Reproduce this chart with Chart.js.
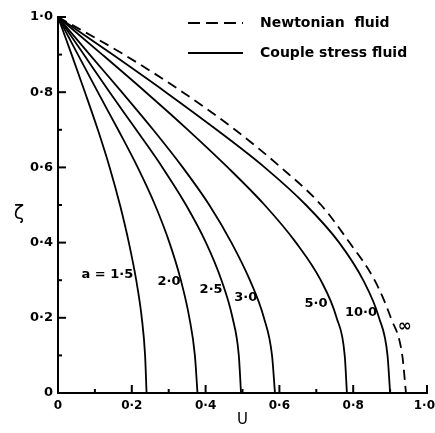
<!DOCTYPE html>
<html>
<head>
<meta charset="utf-8">
<script src="https://cdn.jsdelivr.net/npm/chart.js@4.4.0/dist/chart.umd.min.js"></script>
<style>
    body { margin: 0; background: #fff; }
</style>
</head>
<body>
<canvas id="grafico" width="435" height="433"></canvas>
<script>
// zeta values, top to bottom, shared by all curves
var zeta = [1.0, 0.9, 0.8, 0.7, 0.6, 0.5, 0.4, 0.3, 0.2, 0.1, 0];

// velocity u for each curve
var uNewtonian = [0, 0.179, 0.338, 0.48, 0.604, 0.713, 0.79, 0.858, 0.902, 0.933, 0.943];
var u15 = [0, 0.037, 0.073, 0.108, 0.140, 0.168, 0.192, 0.212, 0.227, 0.236, 0.240];
var u20 = [0, 0.054, 0.108, 0.163, 0.216, 0.263, 0.302, 0.333, 0.356, 0.371, 0.378];
var u25 = [0, 0.070, 0.140, 0.212, 0.283, 0.347, 0.401, 0.443, 0.473, 0.490, 0.496];
var u30 = [0, 0.086, 0.173, 0.258, 0.338, 0.410, 0.470, 0.520, 0.558, 0.580, 0.588];
var u50 = [0, 0.120, 0.238, 0.352, 0.460, 0.560, 0.645, 0.712, 0.755, 0.777, 0.783];
var u100 = [0, 0.148, 0.292, 0.430, 0.560, 0.672, 0.762, 0.827, 0.870, 0.893, 0.900];

// tick values on both axes
var tacche = [0, 0.2, 0.4, 0.6, 0.8, 1.0];

// curve labels and where they sit (u, zeta)
var etichette = ['a = 1·5', '2·0', '2·5', '3·0', '5·0', '10·0', '∞'];
var etichetteU = [0.134, 0.301, 0.415, 0.509, 0.699, 0.821, 0.940];
var etichetteZeta = [0.316, 0.295, 0.274, 0.253, 0.239, 0.213, 0.176];

var legenda = ['Newtonian  fluid', 'Couple stress fluid'];

function punti(u) {
    var out = [];
    for (var i = 0; i < zeta.length; i++) {
        out.push({ x: u[i], y: zeta[i] });
    }
    return out;
}

function serie(label, u, dash) {
    return {
        label: label,
        data: punti(u),
        showLine: true,
        borderColor: '#000',
        borderWidth: 1.8,
        borderDash: dash,
        pointRadius: 0,
        cubicInterpolationMode: 'monotone',
        fill: false
    };
}

function formatta(v) {
    if (v === 0) return '0';
    return v.toFixed(1).replace('.', '·');
}

var fontBase = '"DejaVu Sans", sans-serif';

// ticks inside, x tick labels, curve labels, zeta title, legend
var decorazioni = {
    id: 'decorazioni',
    afterDraw: function (chart) {
        var ctx = chart.ctx;
        var xs = chart.scales.x;
        var ys = chart.scales.y;
        var area = chart.chartArea;
        ctx.save();
        ctx.strokeStyle = '#000';
        ctx.fillStyle = '#000';
        ctx.lineWidth = 2;
        for (var i = 0; i <= 10; i++) {
            var v = i / 10;
            var len = (i % 2 === 0) ? 8 : 4;
            var px = xs.getPixelForValue(v);
            ctx.beginPath();
            ctx.moveTo(px, area.bottom);
            ctx.lineTo(px, area.bottom - len);
            ctx.stroke();
            var py = ys.getPixelForValue(v);
            ctx.beginPath();
            ctx.moveTo(area.left, py);
            ctx.lineTo(area.left + len, py);
            ctx.stroke();
        }

        // x tick labels, the last one kept inside the canvas
        ctx.font = 'bold 12px ' + fontBase;
        ctx.textAlign = 'center';
        ctx.textBaseline = 'middle';
        for (var t = 0; t < tacche.length; t++) {
            var testo = formatta(tacche[t]);
            var w = ctx.measureText(testo).width;
            var cx = Math.min(xs.getPixelForValue(tacche[t]), chart.width - w / 2);
            ctx.fillText(testo, cx, area.bottom + 13);
        }

        for (var k = 0; k < etichette.length; k++) {
            ctx.font = (etichette[k] === '∞' ? 'bold 17px ' : 'bold 13px ') + fontBase;
            ctx.fillText(etichette[k], xs.getPixelForValue(etichetteU[k]), ys.getPixelForValue(etichetteZeta[k]));
        }

        ctx.font = '19px ' + fontBase;
        ctx.fillText('ζ', 19, ys.getPixelForValue(0.475));

        // legend
        ctx.font = 'bold 14px ' + fontBase;
        ctx.textAlign = 'left';
        ctx.lineWidth = 1.8;
        ctx.setLineDash([12, 6]);
        ctx.beginPath();
        ctx.moveTo(188, 23);
        ctx.lineTo(243, 23);
        ctx.stroke();
        ctx.fillText(legenda[0], 260, 23);
        ctx.setLineDash([]);
        ctx.beginPath();
        ctx.moveTo(188, 53);
        ctx.lineTo(243, 53);
        ctx.stroke();
        ctx.fillText(legenda[1], 260, 53);
        ctx.restore();
    }
};

var ctx = document.getElementById('grafico');
var chart = new Chart(ctx, {
    type: 'scatter',
    data: {
        datasets: [
            serie('Newtonian fluid', uNewtonian, [10, 6]),
            serie('a = 1.5', u15, []),
            serie('a = 2.0', u20, []),
            serie('a = 2.5', u25, []),
            serie('a = 3.0', u30, []),
            serie('a = 5.0', u50, []),
            serie('a = 10.0', u100, [])
        ]
    },
    options: {
        responsive: false,
        animation: false,
        devicePixelRatio: 1,
        layout: { padding: { top: 17, right: 8, bottom: 0, left: 0 } },
        plugins: {
            legend: { display: false },
            tooltip: { enabled: false }
        },
        scales: {
            x: {
                type: 'linear',
                min: 0,
                max: 1,
                ticks: { display: false, stepSize: 0.2 },
                grid: { display: false, drawTicks: false },
                border: { display: true, color: '#000', width: 2 },
                title: {
                    display: true,
                    text: 'U',
                    color: '#000',
                    font: { family: fontBase, size: 15 },
                    padding: { top: 0, bottom: 4 }
                },
                afterFit: function (s) {
                    s.height = 40;
                    s.paddingLeft = 0;
                    s.paddingRight = 0;
                }
            },
            y: {
                type: 'linear',
                min: 0,
                max: 1,
                ticks: {
                    stepSize: 0.2,
                    padding: 5,
                    color: '#000',
                    font: { family: fontBase, size: 13, weight: 'bold' },
                    callback: formatta
                },
                grid: { display: false, drawTicks: false },
                border: { display: true, color: '#000', width: 2 },
                afterFit: function (s) {
                    s.width = 58;
                    s.paddingTop = 0;
                    s.paddingBottom = 0;
                }
            }
        }
    },
    plugins: [decorazioni]
});
</script>
</body>
</html>
